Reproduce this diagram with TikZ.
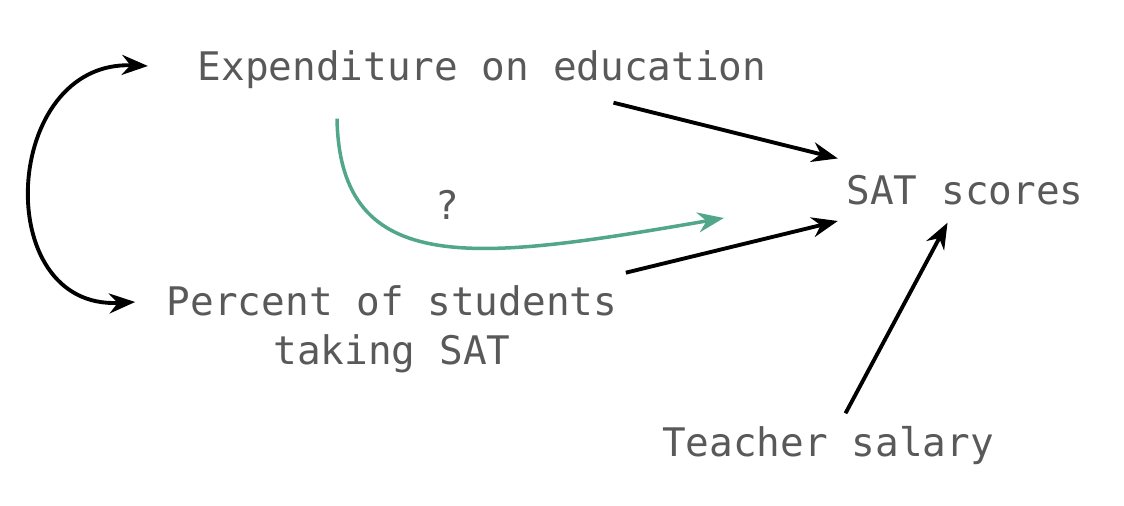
\documentclass[tikz,border=0pt]{standalone}
\usepackage{fontspec}
\setmonofont{DejaVu Sans Mono}
\usetikzlibrary{arrows.meta, positioning}
\definecolor{textgray}{RGB}{89,89,89}
\definecolor{askgreen}{RGB}{82,166,138}

\begin{document}
\begin{tikzpicture}
  \tikzstyle{factor} = [text=textgray, font=\ttfamily\fontsize{11.2}{13.9}\selectfont, align=center, inner xsep=0.8mm, inner ysep=0pt, minimum height=0.64cm]
  \tikzstyle{connector} = [draw, line width=1.1pt, -{Stealth[length=2.6mm,width=2mm]}]
  \tikzstyle{twoway} = [draw, line width=1.1pt, {Stealth[length=2.6mm,width=2mm]}-{Stealth[length=2.6mm,width=2mm]}]
  \tikzstyle{query} = [draw=askgreen, line width=1pt, -{Stealth[length=2.6mm,width=2mm]}]
  \useasboundingbox (0,0) rectangle (11.24,-5.06);
  \node [factor] (expenditure) at (4.82,-0.70) {Expenditure on education};
  \node [factor] (sat) at (9.65,-1.90) {SAT scores};
  \node [factor] (percent) at (3.92,-3.29) {Percent of students\\taking SAT};
  \node [factor] (salary) at (8.28,-4.46) {Teacher salary};
  \node [factor, minimum height=0pt] (unknown) at (4.47,-2.05) {?};
  \path [connector] (expenditure) -- (sat);
  \path [connector] ([yshift=1.2mm]percent.north east) -- (sat);
  \path [connector] (salary) -- (sat);
  \path [twoway] ([xshift=-4.1mm,yshift=0.4mm]expenditure.west) .. controls +(-1.46,0.06) and +(-1.46,-0.08) .. ([xshift=-2.3mm,yshift=2.7mm]percent.west);
  % the questioned link
  \path [query] ([xshift=-14.5mm,yshift=-1.6mm]expenditure.south) .. controls +(0.03,-1.62) and +(-2.44,-0.42) .. ([xshift=-11.4mm,yshift=-2.8mm]sat.west);
\end{tikzpicture}
\end{document}
